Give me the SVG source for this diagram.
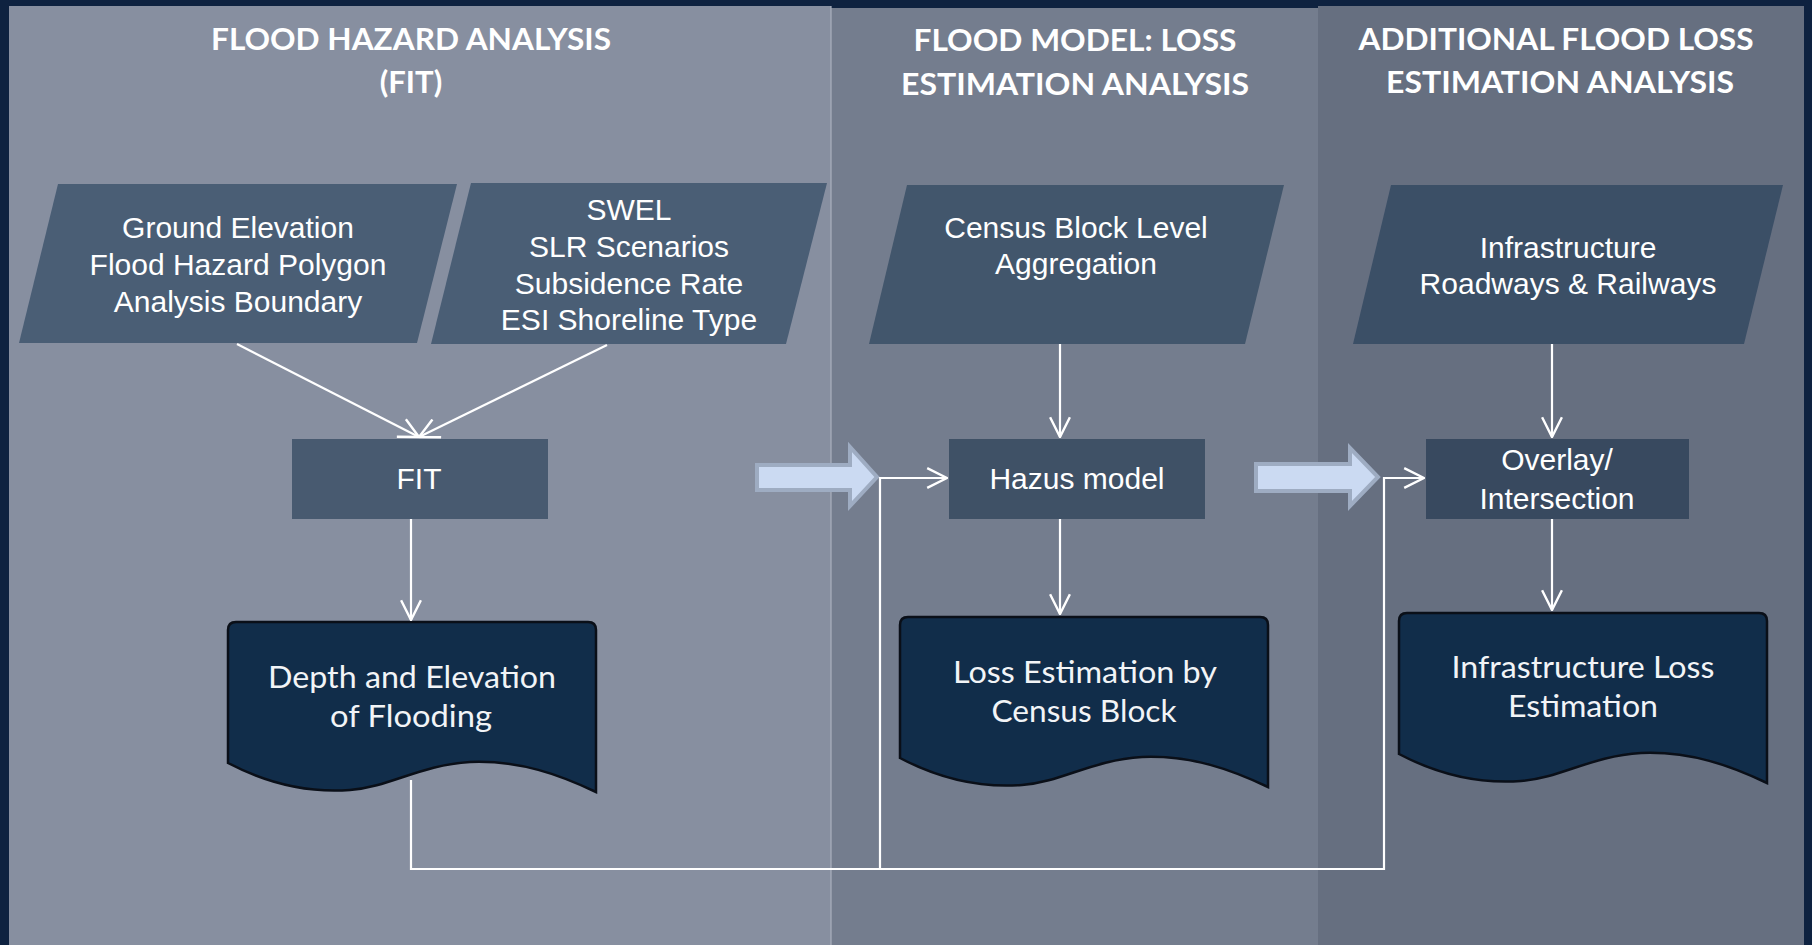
<svg xmlns="http://www.w3.org/2000/svg" width="1812" height="945" viewBox="0 0 1812 945">
  <defs>
    <style>
      .title { font-family: Lato, "Open Sans", sans-serif; font-weight: 700; font-size: 31px; fill: #ffffff; text-anchor: middle; }
      .arial { font-family: "Liberation Sans", Arial, sans-serif; font-size: 30px; fill: #ffffff; text-anchor: middle; }
      .doctext { font-family: Lato, "Open Sans", sans-serif; font-size: 30px; fill: #f2f4f7; text-anchor: middle; }
      .doc { fill: #112d4a; stroke: #0a0f18; stroke-width: 2.5; }
      .conn { fill: none; stroke: #ffffff; stroke-width: 2.2; }
      .block { fill: #cbdaf2; stroke: #9eacc2; stroke-width: 4; stroke-linejoin: miter; }
    </style>
    <marker id="open" markerUnits="userSpaceOnUse" markerWidth="22" markerHeight="22" viewBox="0 0 20 20" refX="19" refY="10" orient="auto">
      <path d="M1,1 L19,10 L1,19" fill="none" stroke="#ffffff" stroke-width="2.2"/>
    </marker>
    <path id="docShape" d="M0,8 Q0,0 8,0 L360,0 Q368,0 368,8 L368,170 C332,153 292,138 242,140 C192,143 162,165 122,168 C82,171 42,163 0,141 Z"/>
  </defs>

  <!-- frame and swimlane backgrounds -->
  <rect x="0" y="0" width="1812" height="945" fill="#0e2240"/>
  <rect x="9" y="6" width="822" height="939" fill="#878fa0"/>
  <rect x="831" y="8" width="487" height="937" fill="#747d8e"/>
  <rect x="1318" y="6" width="486" height="939" fill="#666f80"/>
  <line x1="831" y1="6" x2="831" y2="945" stroke="#aab1be" stroke-width="1.2"/>

  <!-- lane headings -->
  <g id="lane-titles">
    <text class="title" x="411" y="50" textLength="400" lengthAdjust="spacingAndGlyphs">FLOOD HAZARD ANALYSIS</text>
    <text class="title" x="411" y="93">(FIT)</text>
    <text class="title" x="1075" y="51" textLength="323" lengthAdjust="spacingAndGlyphs">FLOOD MODEL: LOSS</text>
    <text class="title" x="1075" y="95" textLength="348" lengthAdjust="spacingAndGlyphs">ESTIMATION ANALYSIS</text>
    <text class="title" x="1556" y="50" textLength="395" lengthAdjust="spacingAndGlyphs">ADDITIONAL FLOOD LOSS</text>
    <text class="title" x="1560" y="93" textLength="348" lengthAdjust="spacingAndGlyphs">ESTIMATION ANALYSIS</text>
  </g>

  <!-- input data (parallelograms) -->
  <g id="input-ground">
    <polygon points="58,184 457,184 417,343 19,343" fill="#4a5e75"/>
    <text class="arial" x="238" y="238">Ground Elevation</text>
    <text class="arial" x="238" y="275">Flood Hazard Polygon</text>
    <text class="arial" x="238" y="312">Analysis Boundary</text>
  </g>
  <g id="input-swel">
    <polygon points="471,183 827,183 786,344 431,344" fill="#4a5e75"/>
    <text class="arial" x="629" y="220">SWEL</text>
    <text class="arial" x="629" y="257">SLR Scenarios</text>
    <text class="arial" x="629" y="294">Subsidence Rate</text>
    <text class="arial" x="629" y="330">ESI Shoreline Type</text>
  </g>
  <g id="input-census">
    <polygon points="907,185 1284,185 1245,344 869,344" fill="#42566c"/>
    <text class="arial" x="1076" y="238">Census Block Level</text>
    <text class="arial" x="1076" y="274">Aggregation</text>
  </g>
  <g id="input-infrastructure">
    <polygon points="1391,185 1783,185 1744,344 1353,344" fill="#3b4f66"/>
    <text class="arial" x="1568" y="258">Infrastructure</text>
    <text class="arial" x="1568" y="294">Roadways &amp; Railways</text>
  </g>

  <!-- processes -->
  <g id="process-fit">
    <rect x="292" y="439" width="256" height="80" fill="#485a70"/>
    <text class="arial" x="419" y="489">FIT</text>
  </g>
  <g id="process-hazus">
    <rect x="949" y="439" width="256" height="80" fill="#3f5166"/>
    <text class="arial" x="1077" y="489">Hazus model</text>
  </g>
  <g id="process-overlay">
    <rect x="1426" y="439" width="263" height="80" fill="#38495f"/>
    <text class="arial" x="1557" y="470">Overlay/</text>
    <text class="arial" x="1557" y="509">Intersection</text>
  </g>

  <!-- outputs (document shapes) -->
  <g id="output-depth">
    <use href="#docShape" class="doc" transform="translate(228,622)"/>
    <text class="doctext" x="412" y="688" textLength="288" lengthAdjust="spacingAndGlyphs">Depth and Elevation</text>
    <text class="doctext" x="411" y="727" textLength="162" lengthAdjust="spacingAndGlyphs">of Flooding</text>
  </g>
  <g id="output-loss">
    <use href="#docShape" class="doc" transform="translate(900,617)"/>
    <text class="doctext" x="1085" y="683" textLength="264" lengthAdjust="spacingAndGlyphs">Loss Estimation by</text>
    <text class="doctext" x="1084" y="722" textLength="185" lengthAdjust="spacingAndGlyphs">Census Block</text>
  </g>
  <g id="output-infrastructure">
    <use href="#docShape" class="doc" transform="translate(1399,613)"/>
    <text class="doctext" x="1583" y="678" textLength="263" lengthAdjust="spacingAndGlyphs">Infrastructure Loss</text>
    <text class="doctext" x="1583" y="717" textLength="150" lengthAdjust="spacingAndGlyphs">Estimation</text>
  </g>

  <!-- stage-to-stage block arrows -->
  <g id="stage-arrows">
    <polygon class="block" points="757,465 850,465 850,447 877,477 850,506 850,490 757,490"/>
    <polygon class="block" points="1256,464 1350,464 1350,448 1378,477 1350,506 1350,491 1256,491"/>
  </g>

  <!-- connectors -->
  <g id="connectors">
    <path class="conn" d="M237,344 L419,437" marker-end="url(#open)"/>
    <path class="conn" d="M607,345 L419,437" marker-end="url(#open)"/>
    <path class="conn" d="M411,519 L411,620" marker-end="url(#open)"/>
    <path class="conn" d="M1060,344 L1060,437" marker-end="url(#open)"/>
    <path class="conn" d="M1060,519 L1060,614" marker-end="url(#open)"/>
    <path class="conn" d="M1552,344 L1552,437" marker-end="url(#open)"/>
    <path class="conn" d="M1552,519 L1552,610" marker-end="url(#open)"/>
    <path class="conn" d="M411,780 L411,869 L1384,869 L1384,478 L1424,478" marker-end="url(#open)"/>
    <path class="conn" d="M880,869 L880,478 L947,478" marker-end="url(#open)"/>
  </g>
</svg>
